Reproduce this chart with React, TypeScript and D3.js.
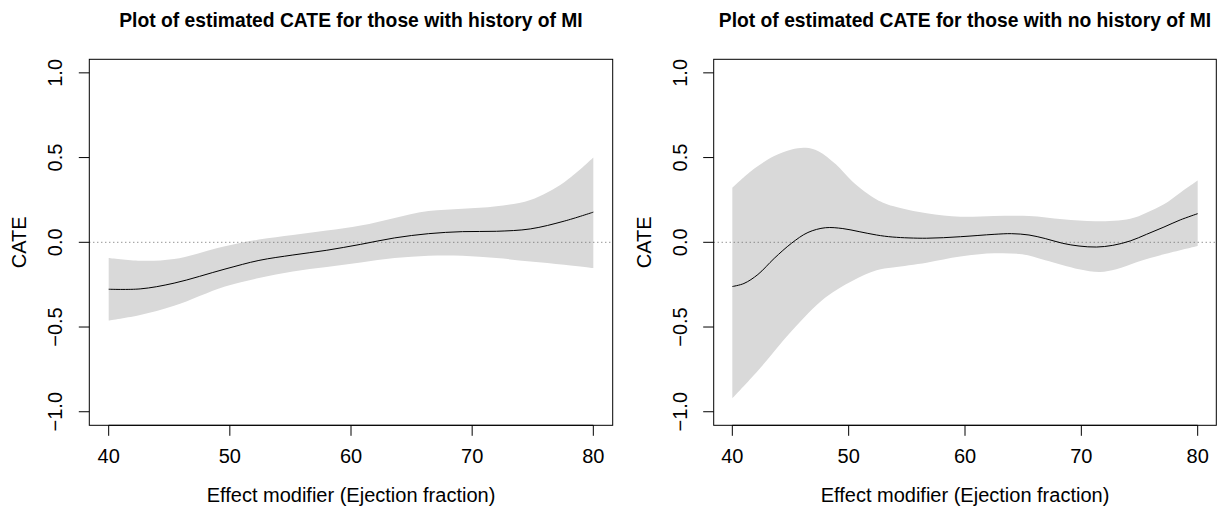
import React from "react";
import * as d3 from "d3";

// Ejection fraction grid values, CATE estimate and 95% band
const historyEstimate: [number, number][] = [
  [40, -0.277], [42.6, -0.275], [45.4, -0.241], [49.6, -0.158], [52.4, -0.107],
  [55.2, -0.075], [58.0, -0.047], [60.8, -0.012], [63.6, 0.026], [66.4, 0.051],
  [69.2, 0.063], [72.0, 0.065], [74.8, 0.079], [77.6, 0.125], [80, 0.178],
];
const historyUpper: [number, number][] = [
  [40, -0.093], [42.6, -0.109], [45.4, -0.099], [49.6, -0.024], [52.4, 0.016],
  [55.2, 0.043], [58.0, 0.069], [60.8, 0.099], [63.6, 0.144], [66.4, 0.184],
  [69.2, 0.198], [72.0, 0.213], [74.8, 0.25], [77.6, 0.355], [80, 0.5],
];
const historyLower: [number, number][] = [
  [40, -0.462], [42.6, -0.429], [45.4, -0.375], [49.6, -0.261], [52.4, -0.211],
  [55.2, -0.172], [58.0, -0.146], [60.8, -0.119], [63.6, -0.093], [66.4, -0.079],
  [69.2, -0.079], [72.0, -0.093], [74.8, -0.113], [77.6, -0.132], [80, -0.152],
];

const noHistoryEstimate: [number, number][] = [
  [40, -0.261], [41.0, -0.243], [42.2, -0.19], [43.6, -0.095], [45.1, -0.005],
  [46.5, 0.058], [48.0, 0.086], [49.5, 0.081], [50.9, 0.063], [52.4, 0.043],
  [53.8, 0.031], [56.7, 0.024], [59.6, 0.033], [62.5, 0.047], [64.0, 0.051],
  [65.5, 0.043], [66.9, 0.022], [68.4, -0.006], [69.8, -0.022], [71.3, -0.028],
  [72.7, -0.018], [74.2, 0.008], [75.6, 0.047], [77.1, 0.09], [78.5, 0.132],
  [80, 0.169],
];
const noHistoryUpper: [number, number][] = [
  [40, 0.322], [41.6, 0.42], [43.6, 0.509], [45.1, 0.548], [46.3, 0.558],
  [47.4, 0.538], [48.9, 0.46], [50.3, 0.361], [52.4, 0.253], [53.8, 0.214],
  [56.7, 0.171], [59.6, 0.151], [62.5, 0.155], [65.5, 0.155], [68.4, 0.136],
  [71.3, 0.124], [74.2, 0.139], [75.6, 0.175], [77.1, 0.224], [78.5, 0.293],
  [80, 0.365],
];
const noHistoryLower: [number, number][] = [
  [40, -0.921], [42.2, -0.758], [45.1, -0.523], [48.0, -0.326], [50.3, -0.228],
  [52.4, -0.165], [53.8, -0.149], [56.7, -0.12], [59.6, -0.084], [62.5, -0.065],
  [64.9, -0.071], [66.9, -0.106], [69.8, -0.159], [71.6, -0.175], [73.0, -0.159],
  [74.8, -0.116], [77.1, -0.071], [80, -0.022],
];

const xTicks = [40, 50, 60, 70, 80];
const yTicks = [-1, -0.5, 0, 0.5, 1];

const W = 1228;
const H = 514;
const top = 59.3;
const bottom = 425.3;
const font = "'Liberation Sans', Arial, Helvetica, sans-serif";
const axisSize = 20;

const fmtY = (v: number) => (v < 0 ? "\u2212" : "") + Math.abs(v).toFixed(1);

interface PanelProps {
  title: string;
  left: number;
  right: number;
  estimate: [number, number][];
  upper: [number, number][];
  lower: [number, number][];
}

const Panel: React.FC<PanelProps> = ({ title, left, right, estimate, upper, lower }) => {
  const x = d3.scaleLinear().domain([38.4, 81.6]).range([left, right]);
  const y = d3.scaleLinear().domain([-1.08, 1.08]).range([bottom, top]);

  const l = d3
    .line<[number, number]>()
    .x((d) => x(d[0]))
    .y((d) => y(d[1]))
    .curve(d3.curveCatmullRom);

  const up = l(upper)!;
  const lo = l(lower.slice().reverse())!;
  const band = up + "L" + lo.slice(1) + "Z";
  const mid = (left + right) / 2;

  return (
    <g>
      <text x={mid} y={27} textAnchor="middle" fontFamily={font} fontWeight="bold" fontSize={19.3}>
        {title}
      </text>
      <path d={band} fill="#d9d9d9" stroke="none" />
      <line x1={left} x2={right} y1={y(0)} y2={y(0)} stroke="#666" strokeDasharray="1,3" />
      <path d={l(estimate)!} fill="none" stroke="#000" strokeWidth={1} />
      <rect x={left} y={top} width={right - left} height={bottom - top} fill="none" stroke="#000" />
      {/* x axis */}
      <line x1={x(40)} x2={x(80)} y1={bottom} y2={bottom} stroke="#000" />
      {xTicks.map((t) => (
        <g key={t}>
          <line x1={x(t)} x2={x(t)} y1={bottom} y2={bottom + 10.5} stroke="#000" />
          <text x={x(t)} y={463} textAnchor="middle" fontFamily={font} fontSize={axisSize}>
            {t}
          </text>
        </g>
      ))}
      <text x={mid} y={502} textAnchor="middle" fontFamily={font} fontSize={axisSize}>
        Effect modifier (Ejection fraction)
      </text>
      {/* y axis */}
      {yTicks.map((t) => (
        <g key={t}>
          <line x1={left - 10.5} x2={left} y1={y(t)} y2={y(t)} stroke="#000" />
          <text
            transform={`translate(${left - 27},${y(t)}) rotate(-90)`}
            textAnchor="middle"
            fontFamily={font}
            fontSize={axisSize}
          >
            {fmtY(t)}
          </text>
        </g>
      ))}
      <text
        transform={`translate(${left - 63},${(top + bottom) / 2}) rotate(-90)`}
        textAnchor="middle"
        fontFamily={font}
        fontSize={axisSize}
      >
        CATE
      </text>
    </g>
  );
};

export default function App() {
  return (
    <svg
      width={W}
      height={H}
      style={{ position: "absolute", left: 0, top: 0, background: "#fff" }}
    >
      <rect width={W} height={H} fill="#fff" />
      <Panel
        title="Plot of estimated CATE for those with history of MI"
        left={89.3}
        right={612.7}
        estimate={historyEstimate}
        upper={historyUpper}
        lower={historyLower}
      />
      <Panel
        title="Plot of estimated CATE for those with no history of MI"
        left={713.7}
        right={1216.3}
        estimate={noHistoryEstimate}
        upper={noHistoryUpper}
        lower={noHistoryLower}
      />
    </svg>
  );
}
